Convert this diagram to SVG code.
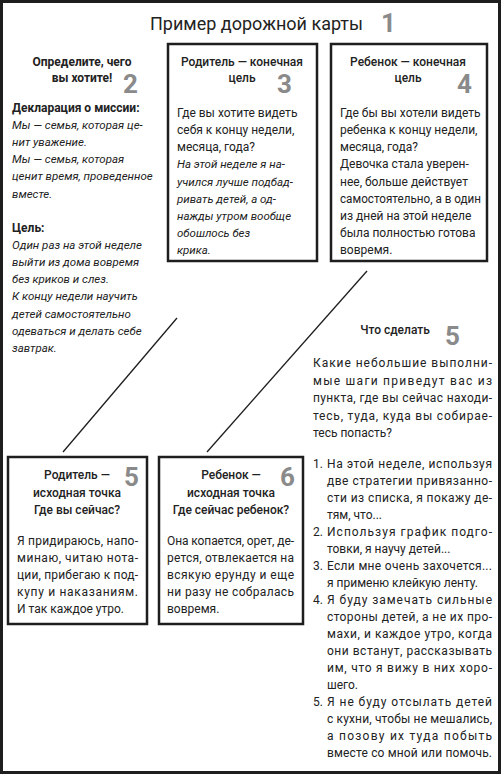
<svg xmlns="http://www.w3.org/2000/svg" width="501" height="774" viewBox="0 0 501 774">
<style>
.t{font-family:Roboto,"Liberation Sans",sans-serif;font-size:12px;fill:#222}
.i{font-style:italic;font-size:11.5px}
.b{font-weight:700}
.h{font-weight:500;text-anchor:middle}
.c{text-anchor:middle}
.n{font-family:Roboto,"Liberation Sans",sans-serif;font-weight:700;font-size:26px;fill:#8a8a8a}
.box{fill:#fff;stroke:#1e1e1e;stroke-width:2.5}
.ln{stroke:#1e1e1e;stroke-width:1.3;fill:none}
</style>
<rect x="0" y="0" width="501" height="774" fill="#fff"/>
<rect x="1.5" y="1.5" width="498" height="771" fill="none" stroke="#1e1e1e" stroke-width="3"/>

<g id="title">
<text class="t" x="150" y="30" textLength="213" lengthAdjust="spacingAndGlyphs" style="font-size:18.5px">Пример дорожной карты</text>
<text class="n" x="381" y="32">1</text>
</g>

<g id="connectors">
<line class="ln" x1="177" y1="318" x2="63" y2="452"/>
<line class="ln" x1="367" y1="271" x2="207" y2="452"/>
</g>

<g id="goal">
<text class="t b c" x="82" y="66">Определите, чего</text>
<text class="t b c" x="82" y="82">вы хотите!</text>
<text class="n" x="123" y="93">2</text>
<text class="t b" x="12" y="112">Декларация о миссии:</text>
<text class="t i" x="12" y="129">Мы — семья, которая це-</text>
<text class="t i" x="12" y="146">нит уважение.</text>
<text class="t i" x="12" y="163">Мы — семья, которая</text>
<text class="t i" x="12" y="180">ценит время, проведенное</text>
<text class="t i" x="12" y="198">вместе.</text>
<text class="t b" x="12" y="232">Цель:</text>
<text class="t i" x="12" y="249">Один раз на этой неделе</text>
<text class="t i" x="12" y="266">выйти из дома вовремя</text>
<text class="t i" x="12" y="283">без криков и слез.</text>
<text class="t i" x="12" y="300">К концу недели научить</text>
<text class="t i" x="12" y="318">детей самостоятельно</text>
<text class="t i" x="12" y="335">одеваться и делать себе</text>
<text class="t i" x="12" y="352">завтрак.</text>
</g>

<g id="parent-goal">
<rect class="box" x="168" y="44" width="149" height="217"/>
<text class="t h" x="242" y="66">Родитель — конечная</text>
<text class="t h" x="242" y="82">цель</text>
<text class="n" x="277" y="93">3</text>
<text class="t" x="177" y="117">Где вы хотите видеть</text>
<text class="t" x="177" y="134">себя к концу недели,</text>
<text class="t" x="177" y="151">месяца, года?</text>
<text class="t i" x="177" y="168">На этой неделе я на-</text>
<text class="t i" x="177" y="186">учился лучше подбад-</text>
<text class="t i" x="177" y="203">ривать детей, а од-</text>
<text class="t i" x="177" y="220">нажды утром вообще</text>
<text class="t i" x="177" y="237">обошлось без</text>
<text class="t i" x="177" y="254">крика.</text>
</g>

<g id="child-goal">
<rect class="box" x="331" y="44" width="156" height="217"/>
<text class="t h" x="408" y="66">Ребенок — конечная</text>
<text class="t h" x="408" y="82">цель</text>
<text class="n" x="457" y="93">4</text>
<text class="t" x="340" y="117">Где бы вы хотели видеть</text>
<text class="t" x="340" y="134">ребенка к концу недели,</text>
<text class="t" x="340" y="151">месяца, года?</text>
<text class="t" x="340" y="168">Девочка стала уверен-</text>
<text class="t" x="340" y="186">нее, больше действует</text>
<text class="t" x="340" y="203" textLength="141" lengthAdjust="spacingAndGlyphs">самостоятельно, а в один</text>
<text class="t" x="340" y="220">из дней на этой неделе</text>
<text class="t" x="340" y="237">была полностью готова</text>
<text class="t" x="340" y="254">вовремя.</text>
</g>

<g id="todo">
<text class="t h" x="395" y="334">Что сделать</text>
<text class="n" x="445" y="345">5</text>
<text class="t" x="313" y="367" textLength="179" lengthAdjust="spacing">Какие небольшие выполни-</text>
<text class="t" x="313" y="384.5" textLength="179" lengthAdjust="spacing">мые шаги приведут вас из</text>
<text class="t" x="313" y="402" textLength="179" lengthAdjust="spacing">пункта, где вы сейчас находи-</text>
<text class="t" x="313" y="419.5" textLength="179" lengthAdjust="spacing">тесь, туда, куда вы собирае-</text>
<text class="t" x="313" y="437">тесь попасть?</text>

<text class="t" x="313" y="468">1.</text>
<text class="t" x="327" y="468" textLength="165" lengthAdjust="spacing">На этой неделе, используя</text>
<text class="t" x="327" y="485" textLength="165" lengthAdjust="spacing">две стратегии привязанно-</text>
<text class="t" x="327" y="502" textLength="165" lengthAdjust="spacing">сти из списка, я покажу де-</text>
<text class="t" x="327" y="519">тям, что...</text>
<text class="t" x="313" y="536">2.</text>
<text class="t" x="327" y="536" textLength="165" lengthAdjust="spacing">Используя график подго-</text>
<text class="t" x="327" y="553">товки, я научу детей...</text>
<text class="t" x="313" y="570">3.</text>
<text class="t" x="327" y="570" textLength="165" lengthAdjust="spacing">Если мне очень захочется...</text>
<text class="t" x="327" y="587">я применю клейкую ленту.</text>
<text class="t" x="313" y="604">4.</text>
<text class="t" x="327" y="604" textLength="165" lengthAdjust="spacing">Я буду замечать сильные</text>
<text class="t" x="327" y="621" textLength="165" lengthAdjust="spacing">стороны детей, а не их про-</text>
<text class="t" x="327" y="638" textLength="165" lengthAdjust="spacing">махи, и каждое утро, когда</text>
<text class="t" x="327" y="655" textLength="165" lengthAdjust="spacing">они встанут, рассказывать</text>
<text class="t" x="327" y="672" textLength="165" lengthAdjust="spacing">им, что я вижу в них хоро-</text>
<text class="t" x="327" y="689">шего.</text>
<text class="t" x="313" y="706">5.</text>
<text class="t" x="327" y="706" textLength="165" lengthAdjust="spacing">Я не буду отсылать детей</text>
<text class="t" x="327" y="723" textLength="165" lengthAdjust="spacing">с кухни, чтобы не мешались,</text>
<text class="t" x="327" y="740" textLength="165" lengthAdjust="spacing">а позову их туда побыть</text>
<text class="t" x="327" y="757" textLength="165" lengthAdjust="spacing">вместе со мной или помочь.</text>
</g>

<g id="parent-start">
<rect class="box" x="8" y="457" width="139" height="167"/>
<text class="t h" x="77" y="479">Родитель —</text>
<text class="t h" x="77" y="497">исходная точка</text>
<text class="t h" x="77" y="514">Где вы сейчас?</text>
<text class="n" x="124" y="486">5</text>
<text class="t" x="17" y="545" textLength="121" lengthAdjust="spacing">Я придираюсь, напо-</text>
<text class="t" x="17" y="562" textLength="121" lengthAdjust="spacing">минаю, читаю нота-</text>
<text class="t" x="17" y="579" textLength="121" lengthAdjust="spacing">ции, прибегаю к под-</text>
<text class="t" x="17" y="596" textLength="121" lengthAdjust="spacing">купу и наказаниям.</text>
<text class="t" x="17" y="613">И так каждое утро.</text>
</g>

<g id="child-start">
<rect class="box" x="159" y="457" width="144" height="167"/>
<text class="t h" x="231" y="479">Ребенок —</text>
<text class="t h" x="231" y="497">исходная точка</text>
<text class="t h" x="231" y="514">Где сейчас ребенок?</text>
<text class="n" x="280" y="486">6</text>
<text class="t" x="167" y="545" textLength="127" lengthAdjust="spacing">Она копается, орет, де-</text>
<text class="t" x="167" y="562" textLength="127" lengthAdjust="spacing">рется, отвлекается на</text>
<text class="t" x="167" y="579" textLength="127" lengthAdjust="spacing">всякую ерунду и еще</text>
<text class="t" x="167" y="596" textLength="127" lengthAdjust="spacing">ни разу не собралась</text>
<text class="t" x="167" y="613">вовремя.</text>
</g>
</svg>
